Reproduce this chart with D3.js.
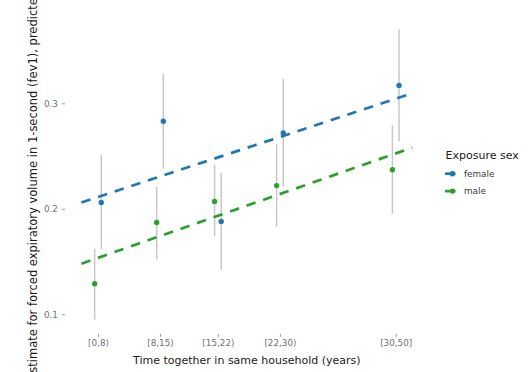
<!DOCTYPE html>
<html><head><meta charset="utf-8">
<script src="https://cdn.jsdelivr.net/npm/d3@7"></script>
<style>body{margin:0;background:#fff}svg{display:block}text{font-family:"DejaVu Sans",sans-serif}</style>
</head><body><div id="chart"></div>
<script>
const categories = ["[0,8)", "[8,15)", "[15,22)", "[22,30)", "[30,50]"];
const catMid = [4, 11.5, 18.5, 26, 40];
const femaleEst = [0.206, 0.283, 0.188, 0.272, 0.317];
const femaleLo  = [0.162, 0.238, 0.142, 0.221, 0.264];
const femaleHi  = [0.251, 0.328, 0.234, 0.323, 0.370];
const maleEst = [0.129, 0.187, 0.207, 0.222, 0.237];
const maleLo  = [0.095, 0.152, 0.174, 0.183, 0.195];
const maleHi  = [0.162, 0.221, 0.242, 0.261, 0.279];
const trendX = [2, 42];
const femaleTrend = [0.206, 0.3095];
const maleTrend = [0.148, 0.258];
const yTicks = [0.1, 0.2, 0.3];
const seriesNames = ["female", "male"];
const colors = ["#1f77b4", "#2ca02c"];
const dodge = [0.4, -0.4];

const W = 530, H = 372;
const svg = d3.select("#chart").append("svg").attr("width", W).attr("height", H);
const x = d3.scaleLinear().domain([0, 44]).range([64.9, 428.8]);
const y = d3.scaleLinear().domain([0.0815, 0.3842]).range([333.8, 14.5]);

// y axis
const yAxis = svg.append("g").attr("transform", `translate(${x.range()[0]},0)`)
  .call(d3.axisLeft(y).tickValues(yTicks).tickSize(3).tickPadding(4).tickFormat(d3.format(".1f")));
yAxis.select(".domain").remove();
yAxis.selectAll("line").attr("stroke", "#9a9a9a");
yAxis.selectAll("text").attr("fill", "#707070").style("font-size", "8.8px");

// x axis
const xAxis = svg.append("g").attr("transform", `translate(0,${y.range()[0]})`)
  .call(d3.axisBottom(x).tickValues(catMid).tickSize(3).tickPadding(3).tickFormat((d, i) => categories[i]));
xAxis.select(".domain").remove();
xAxis.selectAll("line").attr("stroke", "#9a9a9a");
xAxis.selectAll("text").attr("fill", "#707070").style("font-size", "8.8px");

const series = [
  {name: "female", est: femaleEst, lo: femaleLo, hi: femaleHi, trend: femaleTrend},
  {name: "male", est: maleEst, lo: maleLo, hi: maleHi, trend: maleTrend}
];

// error bars
series.forEach((s, si) => {
  svg.append("g").selectAll("line").data(catMid).join("line")
    .attr("x1", (d) => x(d + dodge[si])).attr("x2", (d) => x(d + dodge[si]))
    .attr("y1", (d, i) => y(s.lo[i])).attr("y2", (d, i) => y(s.hi[i]))
    .attr("stroke", "#c8c8c8").attr("stroke-width", 1.5);
});
// trend lines
const line = d3.line().x((d) => x(d[0])).y((d) => y(d[1]));
series.forEach((s, si) => {
  svg.append("path").datum(trendX.map((t, i) => [t, s.trend[i]]))
    .attr("d", line).attr("fill", "none").attr("stroke", colors[si])
    .attr("stroke-width", 2.7).attr("stroke-dasharray", "9.5,8");
});
// points
series.forEach((s, si) => {
  svg.append("g").selectAll("circle").data(catMid).join("circle")
    .attr("cx", (d) => x(d + dodge[si])).attr("cy", (d, i) => y(s.est[i]))
    .attr("r", 2.7).attr("fill", colors[si]);
});

// axis titles
svg.append("text").attr("x", (x.range()[0] + x.range()[1]) / 2).attr("y", 364)
  .attr("text-anchor", "middle").style("font-size", "11px").attr("fill", "#1a1a1a")
  .text("Time together in same household (years)");
svg.append("text").attr("transform", "translate(36.5,380) rotate(-90)")
  .attr("text-anchor", "start").style("font-size", "11.5px").attr("fill", "#1a1a1a")
  .text("Estimate for forced expiratory volume in 1-second (fev1), predicted (%)");

// legend
const lg = svg.append("g");
lg.append("text").attr("x", 445.5).attr("y", 158.5).style("font-size", "11px").attr("fill", "#1a1a1a").text("Exposure sex");
seriesNames.forEach((n, i) => {
  const ky = 173.7 + i * 17.4;
  lg.append("line").attr("x1", 445).attr("x2", 455.5).attr("y1", ky).attr("y2", ky)
    .attr("stroke", colors[i]).attr("stroke-width", 2.7);
  lg.append("circle").attr("cx", 452.5).attr("cy", ky).attr("r", 2.7).attr("fill", colors[i]);
  lg.append("text").attr("x", 464).attr("y", ky + 3.2).style("font-size", "8.8px").attr("fill", "#3a3a3a").text(n);
});
</script></body></html>
